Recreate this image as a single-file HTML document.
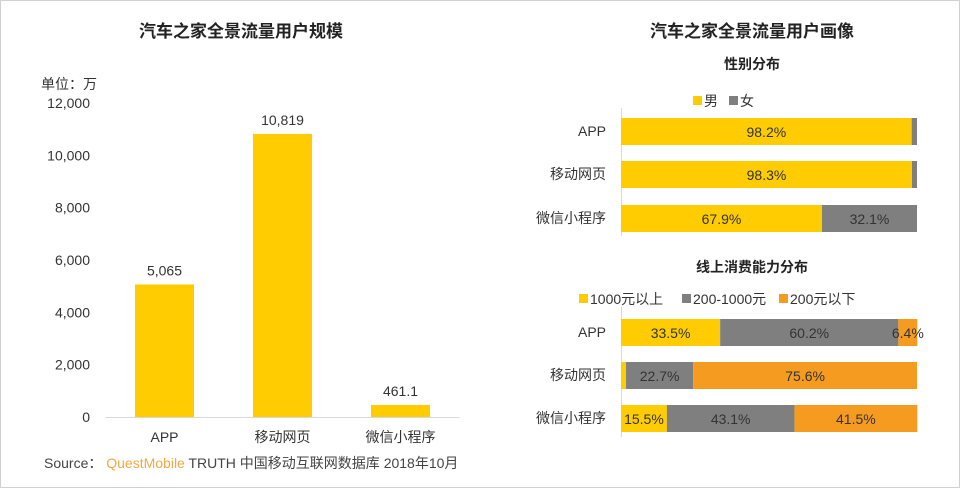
<!DOCTYPE html>
<html><head><meta charset="utf-8"><style>
body{margin:0;background:#fff;}
svg text{font-family:"Liberation Sans","Noto Sans CJK SC",sans-serif;}
</style></head><body>
<svg width="960" height="488" xmlns="http://www.w3.org/2000/svg">
<rect x="0.5" y="0.5" width="959" height="487" fill="#fff" stroke="#d0d0d0"/>
<text x="241" y="37" text-anchor="middle" font-size="17" font-weight="bold" fill="#222">汽车之家全景流量用户规模</text>
<text x="752" y="37" text-anchor="middle" font-size="17" font-weight="bold" fill="#222">汽车之家全景流量用户画像</text>
<text x="41" y="89" font-size="14" fill="#333">单位：万</text>
<g id="left"></g>
<text x="752" y="69" text-anchor="middle" font-size="14" font-weight="bold" fill="#222">性别分布</text>
<text x="752" y="272" text-anchor="middle" font-size="14" font-weight="bold" fill="#222">线上消费能力分布</text>
<g id="right"></g>
<text x="44" y="468" font-size="14" fill="#444">Source： <tspan fill="#f5a843">QuestMobile</tspan> TRUTH 中国移动互联网数据库 2018年10月</text>
</svg>
<script>
const cats=["APP","移动网页","微信小程序"];
const users=[5065,10819,461.1];
const userLabels=["5,065","10,819","461.1"];
const yTicks=[0,2000,4000,6000,8000,10000,12000];
const yTickLabels=["0","2,000","4,000","6,000","8,000","10,000","12,000"];
const male=[98.2,98.3,67.9];
const female=[1.8,1.7,32.1];
const c1=[33.5,1.7,15.5];
const c2=[60.2,22.7,43.1];
const c3=[6.4,75.6,41.5];
const NS="http://www.w3.org/2000/svg";
function mk(p,t,a,txt){const e=document.createElementNS(NS,t);for(const k in a)e.setAttribute(k,a[k]);if(txt!==undefined)e.textContent=txt;p.appendChild(e);return e;}
const L=document.getElementById('left');
const y0=417,yTop=103,x0=105.5,x1=459.5;
const Y=v=>y0-(v/12000)*(y0-yTop);
const band=(x1-x0)/cats.length;
const X=i=>x0+band*(i+0.5);
yTicks.forEach((t,i)=>{const e=mk(L,'text',{x:90,y:Y(t)+5,'text-anchor':'end','font-size':14,fill:'#333'},yTickLabels[i]);

});
const ax=mk(L,'line',{x1:x0,x2:x1,y1:y0+0.5,y2:y0+0.5,stroke:'#d9d9d9'});


cats.forEach((c,i)=>{
const b=mk(L,'rect',{x:X(i)-29.5,y:Y(users[i]),width:59,height:y0-Y(users[i]),fill:'#fecc00'});


const v=mk(L,'text',{x:X(i),y:Y(users[i])-9,'text-anchor':'middle','font-size':14,fill:'#333'},userLabels[i]);


const l=mk(L,'text',{x:X(i),y:442,'text-anchor':'middle','font-size':14,fill:'#333'},c);


});
const R=document.getElementById('right');
const rx0=621,rx1=917;
const RX=p=>rx0+p/100*(rx1-rx0);
function stack(series,colors,tops,legendY,legendNames,legendXs,axTop,axBot){
const a=mk(R,'line',{x1:rx0+0.5,x2:rx0+0.5,y1:axTop,y2:axBot,stroke:'#d9d9d9'});


legendNames.forEach((n,k)=>{
const s=mk(R,'rect',{x:legendXs[k],y:legendY-10,width:9,height:9,fill:colors[k]});


const t=mk(R,'text',{x:legendXs[k]+11,y:legendY,'font-size':14,fill:'#333'},n);


});
cats.forEach((c,i)=>{
const y=tops[i];let acc=0;
const l=mk(R,'text',{x:606,y:y+18,'text-anchor':'end','font-size':14,fill:'#333'},c);


series.forEach((s,k)=>{
const v=s[i];
const r=mk(R,'rect',{x:RX(acc),y:y,width:RX(acc+v)-RX(acc),height:27,fill:colors[k]});


if(v>5){const t=mk(R,'text',{x:(RX(acc)+RX(acc+v))/2,y:y+19,'text-anchor':'middle','font-size':14,fill:'#333'},v.toFixed(1)+'%');

}
acc+=v;});
});
}
stack([male,female],['#fecc00','#7f7f7f'],[118,161,205],106,['男','女'],[693,729],108,236);
stack([c1,c2,c3],['#fecc00','#7f7f7f','#f59b20'],[319,362,405],304,['1000元以上','200-1000元','200元以下'],[579,682,779],307,437);
</script>
</body></html>
